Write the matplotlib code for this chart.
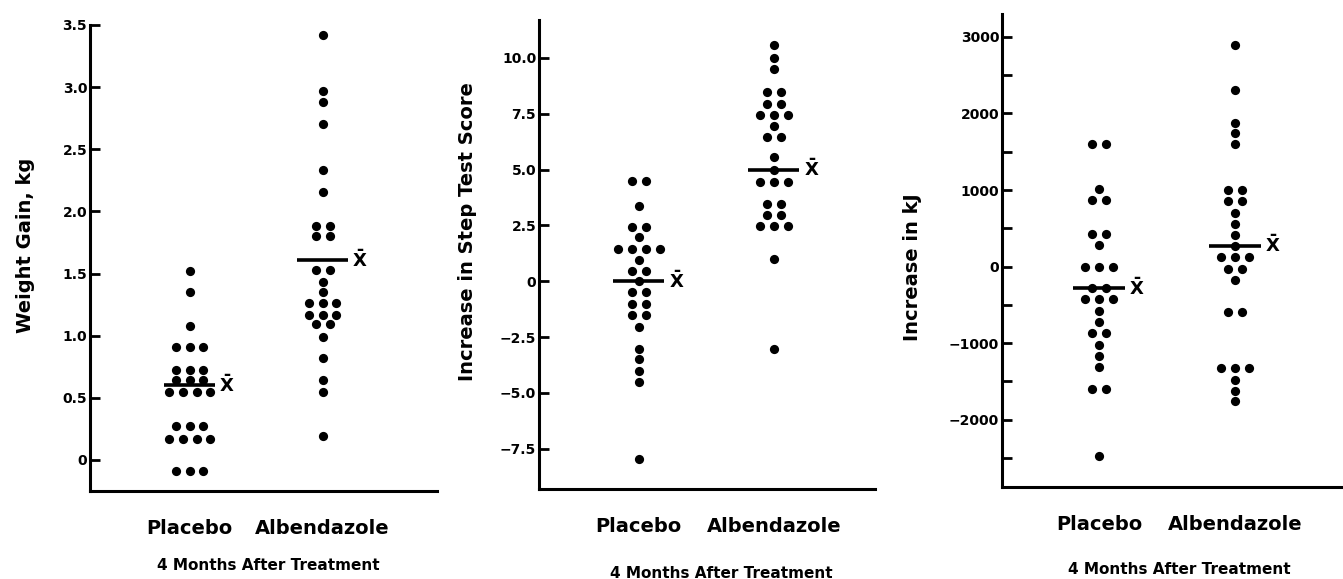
import numpy as np
import matplotlib
matplotlib.use('Agg')
import matplotlib.pyplot as plt

plt.rcParams['font.family'] = 'DejaVu Sans'
plt.rcParams['font.weight'] = 'bold'
plt.rcParams['axes.labelweight'] = 'bold'

groups = ['Placebo', 'Albendazole']
xlabel_text = '4 Months After Treatment'

# panel 1: weight gain, kg
weight_placebo = [1.52, 1.35, 1.08, 0.91, 0.91, 0.91, 0.72, 0.72, 0.72, 0.64, 0.64, 0.64,
                  0.55, 0.55, 0.55, 0.55, 0.27, 0.27, 0.27, 0.17, 0.17, 0.17, 0.17,
                  -0.09, -0.09, -0.09]
weight_albendazole = [3.42, 2.97, 2.88, 2.70, 2.33, 2.16, 1.88, 1.88, 1.80, 1.80, 1.53, 1.53,
                      1.43, 1.35, 1.26, 1.26, 1.26, 1.17, 1.17, 1.17, 1.09, 1.09,
                      0.99, 0.82, 0.64, 0.55, 0.19]
weight_means = [0.60, 1.61]
weight_ticks = [0, 0.5, 1.0, 1.5, 2.0, 2.5, 3.0, 3.5]
weight_ticklabels = ['0', '0.5', '1.0', '1.5', '2.0', '2.5', '3.0', '3.5']

# panel 2: step test score
step_placebo = [4.49, 4.49, 3.38, 2.45, 2.45, 1.98, 1.46, 1.46, 1.46, 1.46, 0.94, 0.47, 0.47,
                0.0, -0.5, -0.5, -1.02, -1.02, -1.5, -1.5, -2.04, -3.03, -3.5, -4.03, -4.52,
                -7.97]
step_albendazole = [10.56, 10.01, 9.51, 8.46, 8.46, 7.94, 7.94, 7.45, 7.45, 7.45, 6.94,
                    6.46, 6.46, 5.56, 5.0, 4.44, 4.44, 4.44, 3.46, 3.46, 2.95, 2.95,
                    2.46, 2.46, 2.46, 0.99, -3.04]
step_means = [0.0, 5.0]
step_ticks = [-7.5, -5.0, -2.5, 0, 2.5, 5.0, 7.5, 10.0]
step_ticklabels = ['\u22127.5', '\u22125.0', '\u22122.5', '0', '2.5', '5.0', '7.5', '10.0']

# panel 3: energy, kJ
kj_placebo = [1604, 1604, 1013, 870, 870, 426, 426, 279, -8, -8, -8, -282, -282,
              -425, -425, -425, -574, -730, -869, -869, -1021, -1164, -1312, -1599, -1599,
              -2477]
kj_albendazole = [2899, 2313, 1878, 1739, 1596, 1000, 1000, 853, 853, 704, 557, 413, 274,
                  123, 123, 123, -30, -30, -173, -600, -600, -1325, -1325, -1325, -1477,
                  -1630, -1760]
kj_means = [-282, 274]
kj_ticks = [-2000, -1000, 0, 1000, 2000, 3000]
kj_ticklabels = ['\u22122000', '\u22121000', '0', '1000', '2000', '3000']
kj_minor = [-2500, -1500, -500, 500, 1500, 2500]

W, H = 1343, 579


def fig_rect(left, top, right, bottom):
    return [left / W, 1 - bottom / H, (right - left) / W, (bottom - top) / H]


def dot_column(ax, x, values, step):
    values = np.asarray(values, dtype=float)
    for v in np.unique(values):
        n = int(np.sum(values == v))
        xs = x + (np.arange(n) - (n - 1) / 2) * step
        ax.scatter(xs, np.full(n, v), s=44, color='black', linewidths=0, zorder=3)


def panel(ax, placebo, albendazole, means, ylabel, ylim, xlim, ticks, ticklabels,
          ylabel_px, xlabel_px, minor=None):
    for x, vals in zip([1, 2], [placebo, albendazole]):
        dot_column(ax, x, vals, 0.103)
    for x, m in zip([1, 2], means):
        ax.plot([x - 0.19, x + 0.19], [m, m], color='black', lw=2.6, zorder=2,
                solid_capstyle='butt')
        ax.annotate(r'$\bar{\mathbf{X}}$', (x + 0.19, m), xytext=(3, 0),
                    textcoords='offset points', ha='left', va='center', fontsize=13)
    ax.set_xlim(*xlim)
    ax.set_ylim(*ylim)
    ax.set_yticks(ticks)
    ax.set_yticklabels(ticklabels)
    if minor is not None:
        ax.set_yticks(minor, minor=True)
    ax.set_xticks([1, 2])
    ax.set_xticklabels(groups, fontsize=14, fontweight='bold')
    ax.spines['top'].set_visible(False)
    ax.spines['right'].set_visible(False)
    ax.spines['left'].set_linewidth(2.2)
    ax.spines['bottom'].set_linewidth(2.2)
    ax.tick_params(axis='y', which='both', direction='in', length=7, width=2,
                   labelsize=10, pad=2)
    ax.tick_params(axis='x', length=0, pad=20)
    ax.set_ylabel(ylabel, fontsize=14, fontweight='bold', ha='center', va='center')
    ax.yaxis.set_label_coords(ylabel_px[0] / W, 1 - ylabel_px[1] / H,
                              transform=ax.figure.transFigure)
    ax.set_xlabel(xlabel_text, fontsize=11, fontweight='bold', va='center')
    ax.xaxis.set_label_coords(xlabel_px[0] / W, 1 - xlabel_px[1] / H,
                              transform=ax.figure.transFigure)


fig = plt.figure(figsize=(W / 100, H / 100), dpi=100)

ax1 = fig.add_axes(fig_rect(90, 25, 437, 491))
panel(ax1, weight_placebo, weight_albendazole, weight_means, 'Weight Gain, kg',
      (-0.25, 3.5), (0.25, 2.86), weight_ticks, weight_ticklabels, (26, 245), (268, 566))

ax2 = fig.add_axes(fig_rect(539, 20, 875, 489))
panel(ax2, step_placebo, step_albendazole, step_means, 'Increase in Step Test Score',
      (-9.3, 11.7), (0.26, 2.75), step_ticks, step_ticklabels, (468, 232), (721, 573))

ax3 = fig.add_axes(fig_rect(1002, 14, 1343, 487))
panel(ax3, kj_placebo, kj_albendazole, kj_means, 'Increase in kJ',
      (-2880, 3300), (0.287, 2.79), kj_ticks, kj_ticklabels, (913, 267), (1179, 570),
      minor=kj_minor)

fig.savefig('out.png', dpi=100, facecolor='white')
